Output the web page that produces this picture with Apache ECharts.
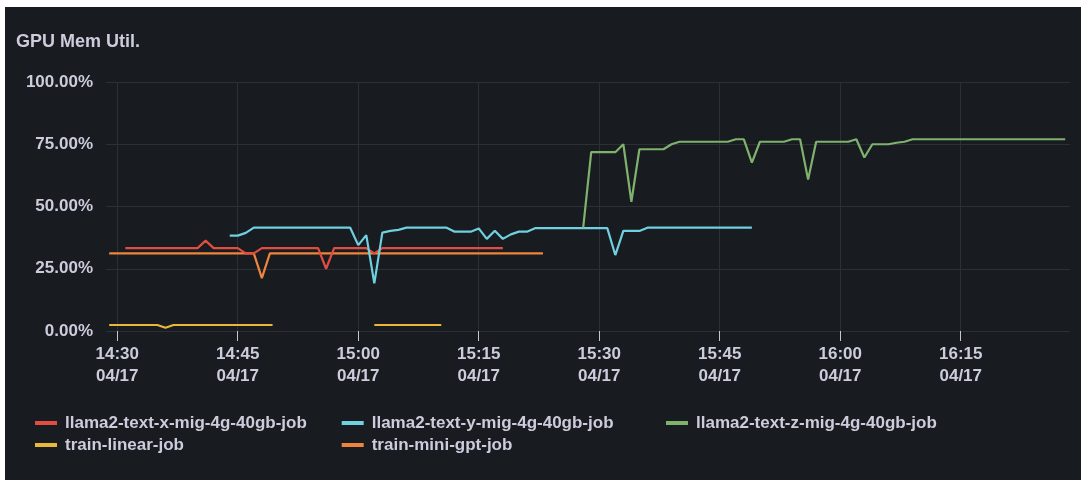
<!DOCTYPE html>
<html>
<head>
<meta charset="utf-8">
<title>GPU Mem Util.</title>
<script src="https://cdn.jsdelivr.net/npm/echarts@6/dist/echarts.min.js"></script>
<style>
  html, body { margin: 0; padding: 0; background: #ffffff; width: 1081px; height: 480px; overflow: hidden; }
  #chart { position: absolute; left: 5px; top: 7px; width: 1076px; height: 473px; }
</style>
</head>
<body>
<div id="chart"></div>
<script>
// Panel text
const panelTitle = 'GPU Mem Util.';
const dateLabel = '04/17';

// Time window and ticks (clock times on 04/17)
const timeRange = ['14:28:36', '16:28:36'];
const tickTimes = ['14:30', '14:45', '15:00', '15:15', '15:30', '15:45', '16:00', '16:15'];
const yTickStep = 25;
const yMax = 100;

// Series names (legend order)
const jobNames = [
  'llama2-text-x-mig-4g-40gb-job',
  'llama2-text-y-mig-4g-40gb-job',
  'llama2-text-z-mig-4g-40gb-job',
  'train-linear-job',
  'train-mini-gpt-job'
];

// Memory utilisation samples, [time, percent]
const jobX = [
  ['14:31', 33.3], ['14:40', 33.3], ['14:41', 36.3], ['14:42', 33.3], ['14:45', 33.3],
  ['14:46', 31.2], ['14:47', 31.2], ['14:48', 33.3], ['14:55', 33.3], ['14:56', 25.0],
  ['14:57', 33.3], ['15:01', 33.3], ['15:02', 31.2], ['15:03', 33.3], ['15:18', 33.3]
];
const jobY = [
  ['14:44', 38.3], ['14:45', 38.3], ['14:46', 39.4], ['14:47', 41.5], ['14:59', 41.5],
  ['15:00', 34.5], ['15:01', 38.5], ['15:02', 19.1], ['15:03', 39.5], ['15:04', 40.2],
  ['15:05', 40.6], ['15:06', 41.5], ['15:11', 41.5], ['15:12', 39.9], ['15:14', 39.9],
  ['15:15', 41.2], ['15:16', 37.0], ['15:17', 40.3], ['15:18', 37.0], ['15:19', 38.8],
  ['15:20', 39.9], ['15:21', 39.9], ['15:22', 41.3], ['15:31', 41.3], ['15:32', 30.5],
  ['15:33', 40.2], ['15:35', 40.2], ['15:36', 41.5], ['15:49', 41.5]
];
const jobZ = [
  ['15:28', 41.5], ['15:29', 71.8], ['15:32', 71.8], ['15:33', 75.0], ['15:34', 51.9],
  ['15:35', 73.0], ['15:38', 73.0], ['15:39', 75.0], ['15:40', 76.0], ['15:46', 76.0],
  ['15:47', 77.0], ['15:48', 77.0], ['15:49', 67.6], ['15:50', 76.0], ['15:53', 76.0],
  ['15:54', 77.0], ['15:55', 77.0], ['15:56', 60.8], ['15:57', 76.0], ['16:01', 76.0],
  ['16:02', 77.0], ['16:03', 69.7], ['16:04', 75.0], ['16:06', 75.0], ['16:07', 75.6],
  ['16:08', 76.0], ['16:09', 77.0], ['16:28', 77.0]
];
const trainLinear = [
  ['14:29', 2.4], ['14:35', 2.4], ['14:36', 1.3], ['14:37', 2.4], ['14:49:20', 2.4],
  ['14:55', null],
  ['15:02', 2.4], ['15:10:20', 2.4]
];
const trainMiniGpt = [
  ['14:29', 31.2], ['14:47', 31.2], ['14:48', 21.2], ['14:49', 31.2], ['15:23', 31.2]
];

// Styling
const palette = ['#E24D42', '#6ED0E0', '#7EB26D', '#EAB839', '#EF843C'];
const bgColor = '#181b1f';
const textColor = '#ccccdc';
const gridColor = '#2c2f34';
const fontFamily = '"Liberation Sans", Arial, sans-serif';

// "HH:MM[:SS]" -> minutes since midnight
function toMinutes(t) {
  const p = t.split(':').map(Number);
  return p[0] * 60 + p[1] + (p[2] || 0) / 60;
}
function pad2(n) { return (n < 10 ? '0' : '') + n; }
function formatClock(m) {
  const r = Math.round(m);
  return pad2(Math.floor(r / 60)) + ':' + pad2(r % 60);
}
function toPoints(rows) {
  return rows.map(r => [toMinutes(r[0]), r[1]]);
}

const tickValues = tickTimes.map(toMinutes);
const seriesData = [jobX, jobY, jobZ, trainLinear, trainMiniGpt];
const zOrder = [3, 4, 5, 2, 1];

const chart = echarts.init(document.getElementById('chart'), null, { renderer: 'canvas' });

const legendText = {
  color: textColor,
  fontSize: 17,
  fontWeight: 'bold',
  fontFamily: fontFamily,
  lineHeight: 18,
  padding: [0, 0, 0, 3]
};
function legendColumn(names, left) {
  return {
    data: names,
    orient: 'vertical',
    left: left,
    top: 407,
    padding: 0,
    itemGap: 4,
    icon: 'rect',
    itemWidth: 22,
    itemHeight: 4,
    selectedMode: false,
    textStyle: legendText
  };
}

chart.setOption({
  backgroundColor: bgColor,
  animation: false,
  title: {
    text: panelTitle,
    left: 11,
    top: 25,
    padding: 0,
    textStyle: { color: textColor, fontSize: 18, fontWeight: 'bold', fontFamily: fontFamily, lineHeight: 20 }
  },
  legend: [
    legendColumn([jobNames[0], jobNames[3]], 30),
    legendColumn([jobNames[1], jobNames[4]], 336.7),
    legendColumn([jobNames[2]], 661)
  ],
  grid: { left: 101, right: 11, top: 75, bottom: 149, containLabel: false },
  xAxis: {
    type: 'value',
    min: toMinutes(timeRange[0]),
    max: toMinutes(timeRange[1]),
    axisLine: { show: false },
    axisTick: {
      show: true,
      customValues: tickValues,
      length: 10,
      lineStyle: { color: '#c4c7d0', width: 1 }
    },
    axisLabel: {
      customValues: tickValues,
      color: textColor,
      fontSize: 17,
      fontWeight: 'bold',
      fontFamily: fontFamily,
      lineHeight: 22,
      margin: 12,
      formatter: v => formatClock(v) + '\n' + dateLabel
    },
    splitLine: { show: true, lineStyle: { color: gridColor, width: 1 } }
  },
  yAxis: {
    type: 'value',
    min: 0,
    max: yMax,
    interval: yTickStep,
    axisLine: { show: false },
    axisTick: { show: false },
    axisLabel: {
      color: textColor,
      fontSize: 17,
      fontWeight: 'bold',
      fontFamily: fontFamily,
      margin: 13,
      formatter: v => v.toFixed(2) + '%'
    },
    splitLine: { show: true, lineStyle: { color: gridColor, width: 1 } }
  },
  series: jobNames.map((name, i) => ({
    name: name,
    type: 'line',
    color: palette[i],
    z: zOrder[i],
    data: toPoints(seriesData[i]),
    showSymbol: false,
    symbol: 'none',
    connectNulls: false,
    lineStyle: { width: 2.2, color: palette[i] },
    emphasis: { disabled: true }
  }))
});
</script>
</body>
</html>
